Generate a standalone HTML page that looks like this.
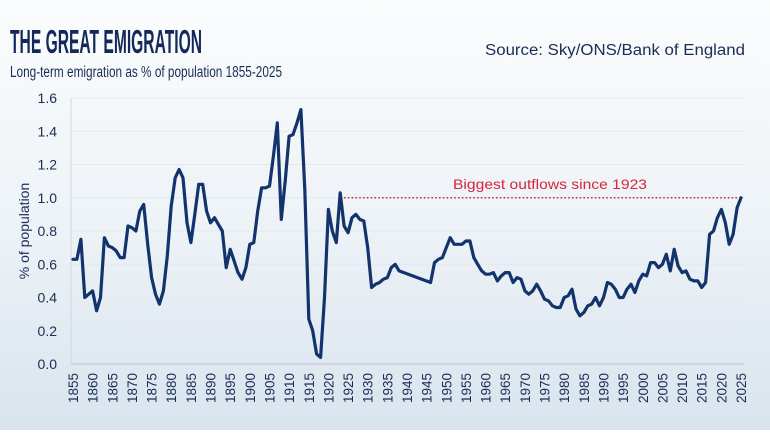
<!DOCTYPE html>
<html><head><meta charset="utf-8"><style>
html,body{margin:0;padding:0;}
body{width:770px;height:430px;overflow:hidden;font-family:"Liberation Sans",sans-serif;}
</style></head><body>
<svg id="chart" width="770" height="430" viewBox="0 0 770 430" xmlns="http://www.w3.org/2000/svg">
<defs>
<linearGradient id="bg" x1="0" y1="0" x2="0" y2="1">
<stop offset="0" stop-color="#fbfcfd"/><stop offset="0.5" stop-color="#eef3f7"/><stop offset="1" stop-color="#d9e4ee"/>
</linearGradient>
</defs>
<rect x="0" y="0" width="770" height="430" fill="url(#bg)"/>
<text x="10" y="53" font-size="33" font-weight="bold" fill="#12295a" textLength="192" lengthAdjust="spacingAndGlyphs">THE GREAT EMIGRATION</text>
<text x="10" y="77" font-size="15.5" fill="#1b2d55" textLength="272" lengthAdjust="spacingAndGlyphs">Long-term emigration as % of population 1855-2025</text>
<text x="485" y="55" font-size="15.5" fill="#1b2d55" textLength="260" lengthAdjust="spacingAndGlyphs">Source: Sky/ONS/Bank of England</text>
<text transform="translate(29,231) rotate(-90)" text-anchor="middle" font-size="14" fill="#1b2d55">% of population</text>
<g id="grid"></g><g id="yticks"></g><g id="xticks"></g>
<line x1="71" y1="364" x2="744" y2="364" stroke="#b8c2cc" stroke-width="1"/>
<line x1="71" y1="98" x2="71" y2="364" stroke="#d0d7de" stroke-width="1"/>
<g id="annot"></g>
<path id="line" fill="none" stroke="#12336b" stroke-width="3.2" stroke-linejoin="round" stroke-linecap="round"/>
</svg>
<script>
const years = [1855,1856,1857,1858,1859,1860,1861,1862,1863,1864,1865,1866,1867,1868,1869,1870,1871,1872,1873,1874,1875,1876,1877,1878,1879,1880,1881,1882,1883,1884,1885,1886,1887,1888,1889,1890,1891,1892,1893,1894,1895,1896,1897,1898,1899,1900,1901,1902,1903,1904,1905,1906,1907,1908,1909,1910,1911,1912,1913,1914,1915,1916,1917,1918,1919,1920,1921,1922,1923,1924,1925,1926,1927,1928,1929,1930,1931,1932,1933,1934,1935,1936,1937,1938,1946,1947,1948,1949,1950,1951,1952,1953,1954,1955,1956,1957,1958,1959,1960,1961,1962,1963,1964,1965,1966,1967,1968,1969,1970,1971,1972,1973,1974,1975,1976,1977,1978,1979,1980,1981,1982,1983,1984,1985,1986,1987,1988,1989,1990,1991,1992,1993,1994,1995,1996,1997,1998,1999,2000,2001,2002,2003,2004,2005,2006,2007,2008,2009,2010,2011,2012,2013,2014,2015,2016,2017,2018,2019,2020,2021,2022,2023,2024,2025];
const values = [0.63,0.63,0.75,0.40,0.42,0.44,0.32,0.40,0.76,0.71,0.70,0.68,0.64,0.64,0.83,0.82,0.80,0.92,0.96,0.72,0.52,0.42,0.36,0.44,0.65,0.95,1.12,1.17,1.12,0.85,0.73,0.90,1.08,1.08,0.92,0.85,0.88,0.84,0.80,0.58,0.69,0.62,0.55,0.51,0.58,0.72,0.73,0.92,1.06,1.06,1.07,1.25,1.45,0.87,1.10,1.37,1.38,1.45,1.53,1.05,0.27,0.20,0.06,0.04,0.40,0.93,0.80,0.73,1.03,0.83,0.79,0.88,0.90,0.87,0.86,0.70,0.46,0.48,0.49,0.51,0.52,0.58,0.60,0.56,0.49,0.61,0.63,0.64,0.70,0.76,0.72,0.72,0.72,0.74,0.74,0.64,0.60,0.56,0.54,0.54,0.55,0.50,0.53,0.55,0.55,0.49,0.52,0.51,0.44,0.42,0.44,0.48,0.44,0.39,0.38,0.35,0.34,0.34,0.40,0.41,0.45,0.33,0.29,0.31,0.35,0.36,0.40,0.35,0.40,0.49,0.48,0.45,0.40,0.40,0.45,0.48,0.43,0.50,0.54,0.53,0.61,0.61,0.58,0.60,0.66,0.56,0.69,0.59,0.55,0.56,0.51,0.50,0.50,0.46,0.49,0.78,0.80,0.88,0.93,0.85,0.72,0.78,0.94,1.00];
const yTickLabels = ["0.0","0.2","0.4","0.6","0.8","1.0","1.2","1.4","1.6"];
const yTickValues = [0,0.2,0.4,0.6,0.8,1.0,1.2,1.4,1.6];
const xTickYears = [1855,1860,1865,1870,1875,1880,1885,1890,1895,1900,1905,1910,1915,1920,1925,1930,1935,1940,1945,1950,1955,1960,1965,1970,1975,1980,1985,1990,1995,2000,2005,2010,2015,2020,2025];
const refValue = 1.0;
const refStartYear = 1923;
const refLabel = "Biggest outflows since 1923";

const NS="http://www.w3.org/2000/svg";
const x0=73,x1=741,y0=364,y1=98;
const xs=y=>x0+(y-1855)/(2025-1855)*(x1-x0);
const ys=v=>y0-v/1.6*(y0-y1);
function mk(tag,attrs,parent){const e=document.createElementNS(NS,tag);for(const k in attrs)e.setAttribute(k,attrs[k]);document.getElementById(parent).appendChild(e);return e;}

yTickValues.forEach((v,i)=>{
  if(v>0){const g=mk('line',{x1:71,x2:744,y1:ys(v),y2:ys(v),stroke:'#e3e9ef','stroke-width':1},'grid');
  
  }
  const t=mk('text',{x:57,y:ys(v)+5,'text-anchor':'end','font-size':14,fill:'#1b2d55'},'yticks');
  t.textContent=yTickLabels[i];
  
  
});
xTickYears.forEach(yr=>{
  const t=mk('text',{transform:`translate(${xs(yr)+5},373) rotate(-90)`,'text-anchor':'end','font-size':13.5,fill:'#1b2d55'},'xticks');
  t.textContent=yr;
  
  
});
const ref=mk('line',{x1:xs(refStartYear),x2:xs(2025),y1:ys(refValue),y2:ys(refValue),stroke:'#d6263a','stroke-width':1.6,'stroke-dasharray':'1.6 2.2'},'annot');


const rl=mk('text',{x:453,y:ys(refValue)-9,'font-size':14,fill:'#d6263a',textLength:194,lengthAdjust:'spacingAndGlyphs'},'annot');
rl.textContent=refLabel;



document.getElementById('line').setAttribute('d',years.map((y,i)=>(i?'L':'M')+xs(y).toFixed(1)+' '+ys(values[i]).toFixed(1)).join(' '));
</script>
</body></html>
